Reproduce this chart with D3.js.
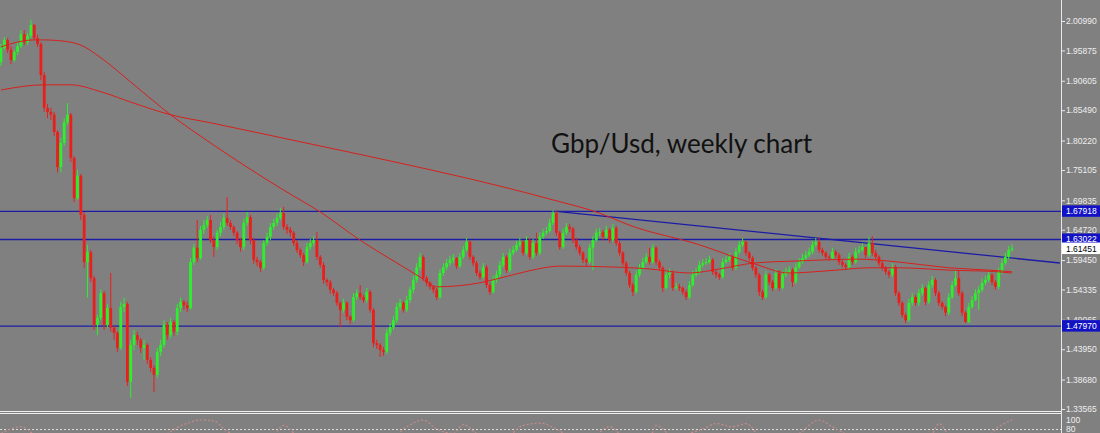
<!DOCTYPE html>
<html><head><meta charset="utf-8">
<script src="https://cdn.jsdelivr.net/npm/d3@7/dist/d3.min.js"></script>
<style>html,body{margin:0;padding:0;background:#808080;overflow:hidden}svg{display:block}</style>
</head><body>
<svg id="c" width="1100" height="433"></svg>
<script>
// ---- data ----
const firstOpen = 1.939;
const closes = [1.963,1.977,1.960,1.942,1.956,1.966,1.987,1.973,1.984,2.003,1.980,1.970,1.916,1.859,1.852,1.847,1.817,1.756,1.798,1.834,
1.847,1.772,1.702,1.741,1.673,1.591,1.608,1.563,1.482,1.494,1.537,1.482,1.511,1.477,1.468,1.442,1.513,1.518,1.383,1.447,
1.464,1.456,1.442,1.447,1.421,1.407,1.395,1.435,1.447,1.482,1.464,1.487,1.470,1.511,1.522,1.516,1.511,1.591,1.616,1.598,
1.647,1.655,1.664,1.629,1.617,1.642,1.652,1.668,1.659,1.652,1.642,1.629,1.617,1.659,1.669,1.629,1.595,1.591,1.581,1.624,
1.635,1.652,1.659,1.668,1.676,1.652,1.647,1.642,1.624,1.612,1.603,1.591,1.617,1.624,1.629,1.600,1.586,1.560,1.556,1.543,
1.537,1.520,1.508,1.520,1.496,1.490,1.530,1.537,1.530,1.525,1.539,1.508,1.450,1.447,1.438,1.435,1.468,1.478,1.490,1.513,
1.520,1.508,1.525,1.543,1.560,1.582,1.600,1.563,1.555,1.548,1.543,1.530,1.572,1.582,1.589,1.595,1.598,1.584,1.600,1.612,
1.626,1.600,1.589,1.572,1.565,1.582,1.551,1.539,1.560,1.569,1.586,1.600,1.577,1.607,1.612,1.621,1.626,1.607,1.629,1.600,
1.624,1.607,1.635,1.642,1.645,1.659,1.676,1.642,1.617,1.642,1.652,1.649,1.629,1.617,1.607,1.595,1.591,1.616,1.629,1.642,
1.643,1.635,1.647,1.629,1.650,1.624,1.607,1.589,1.572,1.551,1.539,1.569,1.581,1.591,1.600,1.591,1.616,1.591,1.581,1.546,
1.569,1.572,1.546,1.548,1.546,1.539,1.530,1.551,1.569,1.574,1.586,1.589,1.591,1.595,1.574,1.569,1.565,1.591,1.595,1.600,
1.581,1.609,1.621,1.626,1.607,1.598,1.581,1.569,1.539,1.530,1.569,1.556,1.546,1.572,1.546,1.569,1.574,1.577,1.556,1.582,
1.591,1.598,1.603,1.609,1.621,1.626,1.612,1.607,1.600,1.598,1.609,1.603,1.591,1.586,1.582,1.600,1.591,1.609,1.612,1.617,
1.603,1.624,1.607,1.600,1.589,1.581,1.574,1.569,1.582,1.537,1.520,1.499,1.490,1.520,1.530,1.520,1.537,1.546,1.522,1.551,
1.560,1.537,1.520,1.513,1.503,1.530,1.551,1.563,1.537,1.503,1.487,1.513,1.525,1.537,1.543,1.555,1.560,1.569,1.556,1.548,
1.574,1.589,1.600,1.612,1.6145];
const highs = [1.970,1.982,1.980,1.966,1.960,1.972,1.994,1.994,1.989,2.012,2.005,1.986,1.973,1.921,1.866,1.859,1.852,1.820,1.807,1.841,
1.867,1.850,1.775,1.751,1.744,1.678,1.621,1.612,1.567,1.499,1.543,1.541,1.518,1.572,1.480,1.471,1.522,1.529,1.522,1.456,
1.473,1.470,1.459,1.456,1.450,1.426,1.412,1.442,1.456,1.490,1.487,1.494,1.490,1.518,1.529,1.525,1.522,1.598,1.622,1.664,
1.654,1.664,1.671,1.673,1.636,1.647,1.661,1.675,1.704,1.664,1.655,1.645,1.633,1.666,1.678,1.673,1.633,1.600,1.595,1.629,
1.642,1.659,1.666,1.675,1.685,1.687,1.657,1.652,1.645,1.629,1.616,1.607,1.624,1.631,1.636,1.643,1.603,1.591,1.563,1.560,
1.546,1.541,1.523,1.527,1.523,1.499,1.537,1.544,1.551,1.534,1.546,1.543,1.511,1.456,1.450,1.443,1.475,1.485,1.497,1.520,
1.527,1.523,1.532,1.549,1.567,1.589,1.607,1.603,1.567,1.558,1.551,1.546,1.579,1.589,1.596,1.602,1.605,1.600,1.607,1.619,
1.633,1.629,1.603,1.593,1.576,1.589,1.586,1.555,1.567,1.576,1.593,1.607,1.603,1.614,1.619,1.628,1.633,1.629,1.636,1.633,
1.631,1.642,1.642,1.649,1.652,1.666,1.681,1.680,1.645,1.649,1.659,1.657,1.652,1.633,1.621,1.610,1.598,1.622,1.636,1.649,
1.650,1.647,1.654,1.650,1.657,1.654,1.628,1.610,1.593,1.576,1.555,1.576,1.588,1.598,1.607,1.616,1.622,1.619,1.595,1.584,
1.576,1.579,1.576,1.555,1.553,1.549,1.543,1.558,1.576,1.581,1.593,1.596,1.598,1.602,1.598,1.577,1.572,1.598,1.602,1.607,
1.603,1.616,1.628,1.633,1.629,1.610,1.602,1.584,1.572,1.543,1.576,1.572,1.560,1.579,1.576,1.576,1.581,1.584,1.581,1.589,
1.598,1.605,1.610,1.616,1.628,1.633,1.633,1.616,1.610,1.603,1.616,1.612,1.607,1.595,1.589,1.607,1.603,1.616,1.619,1.624,
1.612,1.635,1.636,1.612,1.603,1.593,1.584,1.577,1.589,1.586,1.541,1.523,1.503,1.527,1.537,1.534,1.544,1.553,1.549,1.558,
1.567,1.563,1.541,1.523,1.516,1.537,1.558,1.577,1.577,1.541,1.506,1.520,1.532,1.544,1.549,1.562,1.567,1.576,1.572,1.560,
1.581,1.596,1.607,1.619,1.622];
const lows = [1.932,1.960,1.954,1.935,1.939,1.951,1.963,1.968,1.968,1.980,1.977,1.965,1.907,1.852,1.841,1.838,1.810,1.747,1.747,1.793,
1.829,1.765,1.695,1.699,1.664,1.581,1.529,1.556,1.473,1.464,1.490,1.473,1.477,1.470,1.456,1.435,1.438,1.504,1.376,1.355,
1.438,1.447,1.433,1.421,1.414,1.400,1.365,1.390,1.428,1.442,1.456,1.459,1.463,1.464,1.504,1.508,1.504,1.508,1.586,1.591,
1.595,1.640,1.650,1.624,1.600,1.612,1.636,1.647,1.654,1.647,1.636,1.622,1.609,1.612,1.654,1.622,1.588,1.584,1.574,1.577,
1.619,1.629,1.647,1.654,1.664,1.647,1.640,1.635,1.619,1.607,1.598,1.584,1.588,1.612,1.619,1.595,1.581,1.553,1.549,1.536,
1.532,1.515,1.478,1.503,1.490,1.483,1.487,1.525,1.525,1.520,1.520,1.503,1.443,1.440,1.426,1.428,1.431,1.463,1.473,1.485,
1.508,1.503,1.504,1.520,1.537,1.555,1.577,1.558,1.549,1.543,1.537,1.525,1.527,1.567,1.577,1.584,1.589,1.579,1.581,1.596,
1.609,1.595,1.584,1.567,1.560,1.562,1.546,1.534,1.536,1.555,1.565,1.582,1.572,1.574,1.603,1.609,1.617,1.602,1.603,1.595,
1.596,1.602,1.603,1.631,1.638,1.642,1.655,1.636,1.612,1.614,1.638,1.643,1.624,1.612,1.602,1.589,1.584,1.588,1.577,1.626,
1.636,1.629,1.631,1.624,1.626,1.619,1.602,1.584,1.567,1.546,1.532,1.536,1.565,1.577,1.588,1.586,1.588,1.586,1.576,1.539,
1.543,1.563,1.541,1.543,1.541,1.534,1.525,1.527,1.548,1.565,1.570,1.582,1.586,1.588,1.569,1.563,1.560,1.562,1.588,1.591,
1.576,1.577,1.605,1.617,1.602,1.593,1.576,1.563,1.532,1.525,1.527,1.551,1.541,1.543,1.541,1.543,1.565,1.570,1.548,1.553,
1.579,1.588,1.595,1.600,1.605,1.617,1.607,1.602,1.595,1.593,1.595,1.598,1.586,1.581,1.577,1.579,1.586,1.588,1.605,1.609,
1.598,1.600,1.602,1.595,1.584,1.576,1.569,1.563,1.565,1.532,1.515,1.494,1.485,1.487,1.515,1.515,1.515,1.532,1.516,1.518,
1.546,1.532,1.515,1.508,1.497,1.499,1.527,1.548,1.532,1.497,1.485,1.485,1.510,1.523,1.508,1.539,1.551,1.556,1.551,1.543,
1.544,1.570,1.586,1.596,1.609];

const fastMaIdx = [0,10,13,21,24,30,40,51,63,85,96,108,120,126,131,144,150,159,168,186,195,207,216,226,240,258,270,285,300,304];
const fastMaVal = [1.965,1.977,1.977,1.973,1.968,1.946,1.899,1.847,1.798,1.716,1.678,1.629,1.586,1.565,1.548,1.555,1.563,1.576,1.584,1.582,1.579,1.572,1.579,1.589,1.593,1.596,1.591,1.581,1.576,1.574];
const slowMaIdx = [0,13,21,30,40,51,63,90,120,150,166,180,189,210,226,237,249,261,270,285,300,304];
const slowMaVal = [1.890,1.899,1.899,1.887,1.867,1.847,1.833,1.800,1.763,1.723,1.699,1.676,1.655,1.621,1.589,1.572,1.576,1.581,1.581,1.577,1.574,1.572];

const levels = [1.67918, 1.63022, 1.47970];
const trendIdx = [167, 318.4];
const trendVal = [1.6792, 1.5894];
const currentPrice = 1.61451;

const tickLabels = [2.00990,1.95875,1.90605,1.85490,1.80220,1.75105,1.69835,1.64720,1.59450,1.54335,1.49065,1.43950,1.38680,1.33565];
const titleText = "Gbp/Usd, weekly chart";

const oscIdx = [0,6,12,45,55,60,64,68,80,85,90,115,122,127,131,136,139,143,150,157,162,167,175,183,188,195,197,202,211,215,220,224,230,240,246,250,258,270,280,282,286,295,300,304];
const oscVal = [70,85,60,55,90,100,98,75,50,88,60,45,85,100,80,70,90,70,50,88,93,80,45,85,60,60,88,65,80,92,85,92,50,70,100,85,55,40,70,92,60,55,85,100];
const oscLevels = [100, 80];

// ---- layout ----
const W = 1100, H = 433;
const plotR = 1061, plotB = 411;
const svg = d3.select("#c");
svg.append("rect").attr("width", W).attr("height", H).attr("fill", "#808080");

const x = d3.scaleLinear().domain([0, closes.length - 1]).range([1, 1012]);
const y = d3.scaleLinear().domain([1.33565, 2.00990]).range([409, 21]);

const defs = svg.append("defs");
defs.append("clipPath").attr("id", "plot").append("rect").attr("x", 0).attr("y", 0).attr("width", plotR).attr("height", plotB);
defs.append("clipPath").attr("id", "osc").append("rect").attr("x", 0).attr("y", 414).attr("width", plotR).attr("height", 19);

const g = svg.append("g").attr("clip-path", "url(#plot)");

// horizontal levels
g.selectAll("line.lvl").data(levels).enter().append("line")
  .attr("x1", 0).attr("x2", plotR).attr("y1", d => y(d)).attr("y2", d => y(d))
  .attr("stroke", "#1c1ca6").attr("stroke-width", 1.3);

// trend line
g.append("line")
  .attr("x1", x(trendIdx[0])).attr("y1", y(trendVal[0]))
  .attr("x2", x(trendIdx[1])).attr("y2", y(trendVal[1]))
  .attr("stroke", "#1c1ca6").attr("stroke-width", 1.3);

// candles
const candles = closes.map((c, i) => ({ i, o: i === 0 ? firstOpen : closes[i - 1], c, h: highs[i], l: lows[i] }));
const up = "#2cf02c", dn = "#ea1e1a";
const cg = g.append("g");
cg.selectAll("line.w").data(candles).enter().append("line")
  .attr("x1", d => x(d.i)).attr("x2", d => x(d.i))
  .attr("y1", d => y(Math.max(d.h, d.o, d.c))).attr("y2", d => y(Math.min(d.l, d.o, d.c)))
  .attr("stroke", d => d.c >= d.o ? up : dn).attr("stroke-width", 1);
cg.selectAll("rect.b").data(candles).enter().append("rect")
  .attr("x", d => x(d.i) - 1.4).attr("width", 2.8)
  .attr("y", d => y(Math.max(d.o, d.c)))
  .attr("height", d => Math.max(1, Math.abs(y(d.o) - y(d.c))))
  .attr("fill", d => d.c >= d.o ? up : dn);

// moving averages
const maLine = d3.line().x(d => x(d[0])).y(d => y(d[1])).curve(d3.curveMonotoneX);
g.append("path").datum(fastMaIdx.map((v, k) => [v, fastMaVal[k]])).attr("d", maLine)
  .attr("fill", "none").attr("stroke", "#d8201c").attr("stroke-width", 1);
g.append("path").datum(slowMaIdx.map((v, k) => [v, slowMaVal[k]])).attr("d", maLine)
  .attr("fill", "none").attr("stroke", "#d8201c").attr("stroke-width", 1);

// title
svg.append("text").attr("x", 551).attr("y", 153).text(titleText)
  .attr("font-family", "Lato, 'Open Sans', sans-serif").attr("font-size", 26)
  .attr("fill", "#111111");

// separators
svg.append("line").attr("x1", 0).attr("x2", plotR).attr("y1", 411.5).attr("y2", 411.5).attr("stroke", "#f0f0f0").attr("stroke-width", 1);
svg.append("line").attr("x1", 0).attr("x2", plotR).attr("y1", 413.5).attr("y2", 413.5).attr("stroke", "#f0f0f0").attr("stroke-width", 1);

// oscillator panel
const yo = d3.scaleLinear().domain([0, 100]).range([465, 420]);
const og = svg.append("g").attr("clip-path", "url(#osc)");
og.selectAll("line.ol").data(oscLevels.slice(1)).enter().append("line")
  .attr("x1", 0).attr("x2", plotR).attr("y1", d => yo(d) + 0.5).attr("y2", d => yo(d) + 0.5)
  .attr("stroke", "#dcdcdc").attr("stroke-dasharray", "2,2").attr("stroke-width", 1);
og.append("path").datum(oscIdx.map((v, k) => [v, oscVal[k]]))
  .attr("d", d3.line().x(d => x(d[0])).y(d => yo(d[1])).curve(d3.curveMonotoneX))
  .attr("fill", "none").attr("stroke", "#c88a8a").attr("stroke-dasharray", "2,2").attr("stroke-width", 1.2);

// right axis
const axis = d3.axisRight(y).tickValues(tickLabels).tickFormat(d => d.toFixed(5)).tickSize(4).tickSizeOuter(0);
const ax = svg.append("g").attr("transform", `translate(${plotR},0)`).call(axis);
ax.select(".domain").remove();
ax.selectAll(".tick line").attr("stroke", "#e8e8e8");
ax.selectAll(".tick text").attr("fill", "#eeeeee").attr("x", 5)
  .attr("font-family", "'Liberation Sans', Arial, sans-serif").attr("font-size", 8.5);
svg.append("line").attr("x1", plotR + 0.5).attr("x2", plotR + 0.5).attr("y1", 0).attr("y2", H)
  .attr("stroke", "#e8e8e8").attr("stroke-width", 1);

// oscillator labels
svg.selectAll("text.ol").data(oscLevels).enter().append("text")
  .attr("x", 1066).attr("y", d => yo(d) + 3).text(d => d)
  .attr("fill", "#eeeeee").attr("font-family", "'Liberation Sans', Arial, sans-serif").attr("font-size", 8.5);

// price boxes
const boxes = levels.map(v => ({ v, bg: "#1212c4", fg: "#ffffff" })).concat([{ v: currentPrice, bg: "#ffffff", fg: "#000000" }]);
const bx = svg.selectAll("g.box").data(boxes).enter().append("g");
bx.append("rect").attr("x", plotR + 1).attr("width", W - plotR - 1)
  .attr("y", d => y(d.v) - 6).attr("height", 11.5).attr("fill", d => d.bg);
bx.append("text").attr("x", 1066).attr("y", d => y(d.v) + 3).text(d => d.v.toFixed(5))
  .attr("fill", d => d.fg).attr("font-family", "'Liberation Sans', Arial, sans-serif").attr("font-size", 8.5);
</script>
</body></html>
